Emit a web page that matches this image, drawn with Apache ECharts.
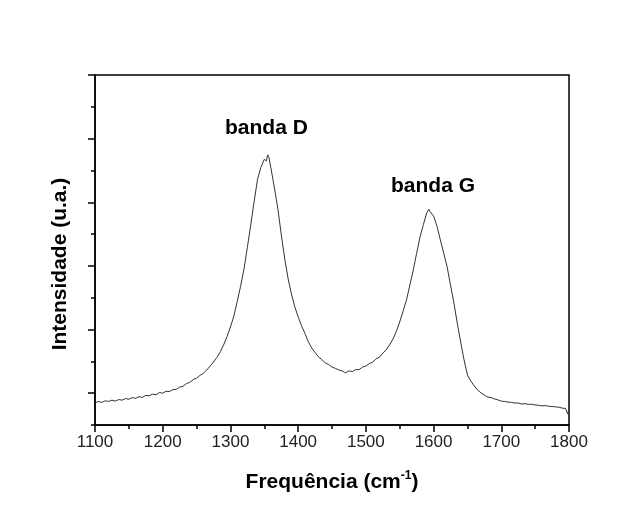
<!DOCTYPE html>
<html>
<head>
<meta charset="utf-8">
<script src="https://cdn.jsdelivr.net/npm/echarts@6/dist/echarts.min.js"></script>
<style>
  html, body { margin: 0; padding: 0; background: #fff; }
  #main { width: 634px; height: 529px; }
</style>
</head>
<body>
<div id="main"></div>
<script>
// espectro Raman: frequencia (cm-1) e intensidade (u.a.)
var frequencia = [
  1100, 1105, 1110, 1115, 1120, 1125, 1130, 1135, 1140, 1145,
  1150, 1155, 1160, 1165, 1170, 1175, 1180, 1185, 1190, 1195,
  1200, 1205, 1210, 1215, 1220, 1225, 1230, 1235, 1240, 1245,
  1250, 1255, 1260, 1265, 1270, 1275, 1280, 1285, 1290, 1295,
  1300, 1305, 1310, 1315, 1320, 1325, 1330, 1335, 1340, 1345,
  1350, 1353, 1355, 1357, 1360, 1365, 1370, 1375, 1380, 1385,
  1390, 1395, 1400, 1405, 1410, 1415, 1420, 1425, 1430, 1435,
  1440, 1445, 1450, 1455, 1460, 1465, 1470, 1475, 1480, 1485,
  1490, 1495, 1500, 1505, 1510, 1515, 1520, 1525, 1530, 1535,
  1540, 1545, 1550, 1555, 1560, 1565, 1570, 1575, 1580, 1585,
  1590, 1593, 1595, 1597, 1600, 1605, 1610, 1615, 1620, 1625,
  1630, 1635, 1640, 1645, 1650, 1655, 1660, 1665, 1670, 1675,
  1680, 1685, 1690, 1695, 1700, 1705, 1710, 1715, 1720, 1725,
  1730, 1735, 1740, 1745, 1750, 1755, 1760, 1765, 1770, 1775,
  1780, 1785, 1790, 1795, 1798, 1800
];
var intensidade = [
  0.69, 0.74, 0.71, 0.76, 0.74, 0.78, 0.75, 0.80, 0.78, 0.83,
  0.81, 0.86, 0.84, 0.89, 0.87, 0.93, 0.92, 0.97, 0.95, 1.02,
  1.00, 1.06, 1.05, 1.11, 1.12, 1.19, 1.22, 1.30, 1.34, 1.43,
  1.47, 1.56, 1.62, 1.73, 1.85, 1.98, 2.12, 2.30, 2.52, 2.78,
  3.08, 3.42, 3.88, 4.36, 4.90, 5.58, 6.29, 7.02, 7.72, 8.10,
  8.35, 8.30, 8.49, 8.40, 8.05, 7.45, 6.80, 6.00, 5.25, 4.62,
  4.12, 3.72, 3.40, 3.12, 2.88, 2.62, 2.42, 2.28, 2.14, 2.06,
  1.95, 1.90, 1.82, 1.78, 1.73, 1.70, 1.64, 1.70, 1.68, 1.74,
  1.74, 1.82, 1.85, 1.93, 1.97, 2.08, 2.13, 2.26, 2.36, 2.52,
  2.70, 2.94, 3.24, 3.58, 3.93, 4.40, 4.87, 5.40, 5.91, 6.30,
  6.67, 6.78, 6.70, 6.76, 6.57, 6.25, 5.82, 5.40, 4.97, 4.40,
  3.84, 3.20, 2.61, 2.05, 1.57, 1.38, 1.23, 1.10, 1.01, 0.94,
  0.88, 0.86, 0.82, 0.79, 0.75, 0.74, 0.72, 0.71, 0.69, 0.69,
  0.66, 0.67, 0.65, 0.65, 0.63, 0.62, 0.60, 0.61, 0.59, 0.58,
  0.57, 0.56, 0.53, 0.52, 0.35, 0.50
];
var ticksMaiores = [1, 3, 5, 7, 9, 11]; // marcas longas do eixo y
var ticksMenores = [0, 2, 4, 6, 8, 10]; // marcas curtas do eixo y

var fonte = '"Liberation Sans", Arial, sans-serif';
var dados = frequencia.map(function (f, i) { return [f, intensidade[i]]; });

var myChart = echarts.init(document.getElementById('main'));
var option = {
  backgroundColor: '#fff',
  animation: false,
  grid: {
    left: 95, right: 65, top: 75, bottom: 104,
    show: true, borderColor: '#000', borderWidth: 1.5, backgroundColor: 'transparent'
  },
  xAxis: {
    type: 'value', min: 1100, max: 1800, interval: 100,
    name: '{b|Frequência (cm}{s|-1}{b|)}',
    nameLocation: 'middle', nameGap: 45,
    nameTextStyle: {
      rich: {
        b: { fontFamily: fonte, fontWeight: 'bold', fontSize: 21, color: '#000' },
        s: { fontFamily: fonte, fontWeight: 'bold', fontSize: 12, color: '#000', verticalAlign: 'top', padding: [0, 0, 12, 0] }
      }
    },
    axisLine: { lineStyle: { color: '#000', width: 1.5 } },
    axisTick: { inside: false, length: 7, lineStyle: { color: '#000', width: 1.5 } },
    minorTick: { show: true, splitNumber: 2, length: 4, lineStyle: { color: '#000', width: 1.5 } },
    axisLabel: {
      fontFamily: fonte, fontSize: 17, color: '#222', margin: 9,
      formatter: function (v) { return String(v); }
    },
    splitLine: { show: false }
  },
  yAxis: [
    {
      type: 'value', min: 0, max: 11,
      axisLine: { show: true, lineStyle: { color: '#000', width: 1.5 } },
      axisTick: { show: true, inside: false, length: 7, customValues: ticksMaiores, lineStyle: { color: '#000', width: 1.5 } },
      axisLabel: { show: false },
      splitLine: { show: false }
    },
    {
      type: 'value', min: 0, max: 11, position: 'left',
      axisLine: { show: false },
      axisTick: { show: true, inside: false, length: 4, customValues: ticksMenores, lineStyle: { color: '#000', width: 1.5 } },
      axisLabel: { show: false },
      splitLine: { show: false }
    }
  ],
  graphic: [
    { type: 'text', left: 225, top: 118, style: { text: 'banda D', font: 'bold 21px ' + fonte, fill: '#000' } },
    { type: 'text', left: 391, top: 176, style: { text: 'banda G', font: 'bold 21px ' + fonte, fill: '#000' } },
    // titulo do eixo y, um pouco abaixo do centro como no original
    {
      type: 'text', x: 60, y: 264, rotation: Math.PI / 2,
      style: { text: 'Intensidade (u.a.)', font: 'bold 21px ' + fonte, fill: '#000', align: 'center', verticalAlign: 'middle' }
    }
  ],
  series: [
    {
      type: 'line', yAxisIndex: 0, data: dados, showSymbol: false,
      lineStyle: { color: '#333', width: 1 }
    }
  ]
};
myChart.setOption(option);
</script>
</body>
</html>
